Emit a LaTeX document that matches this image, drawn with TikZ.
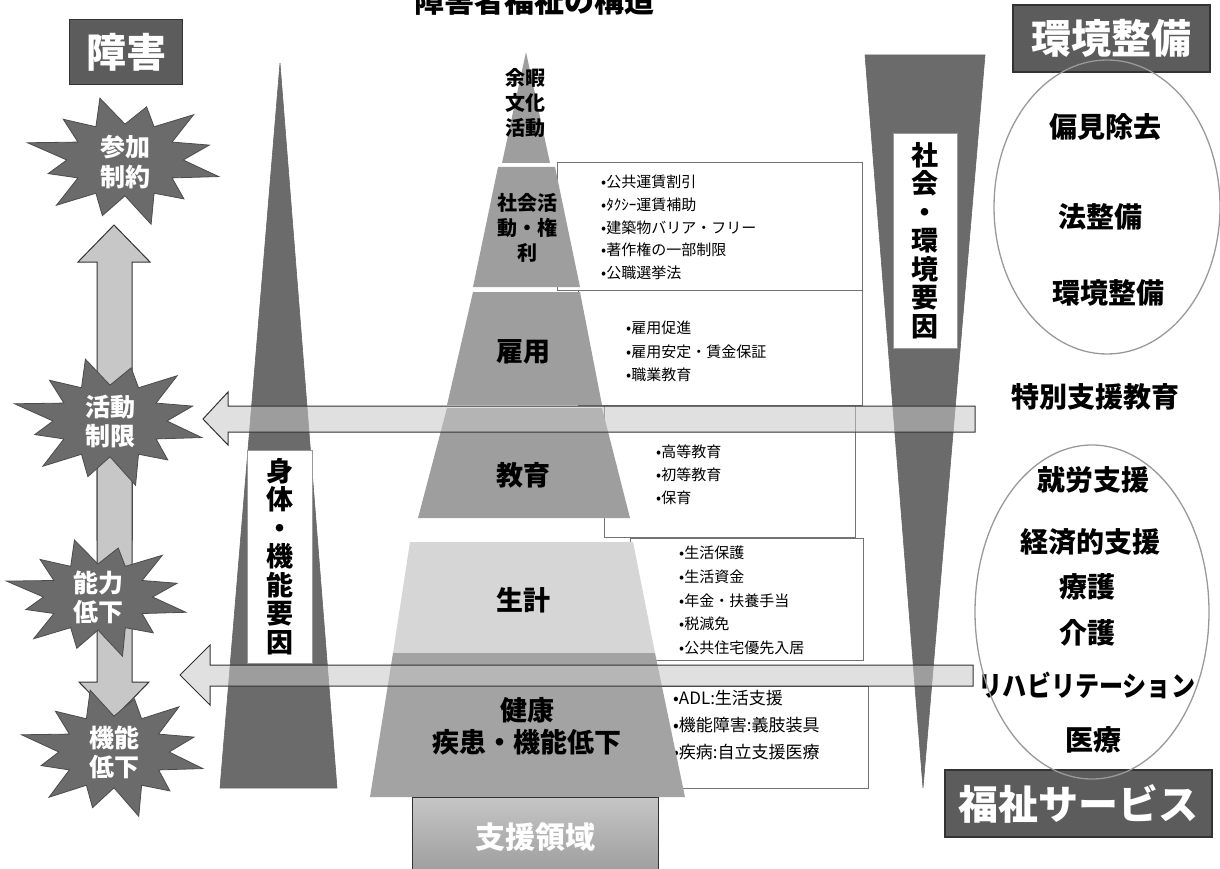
\documentclass[tikz,border=0pt]{standalone}
\usepackage{fontspec}
\setmainfont{Noto Sans CJK JP}
\definecolor{hdr}{gray}{0.36}
\definecolor{tri}{gray}{0.42}
\definecolor{burstc}{gray}{0.42}
\definecolor{pyr}{gray}{0.62}
\definecolor{pyrlight}{gray}{0.84}
\definecolor{pyrsix}{gray}{0.64}
\definecolor{arr}{gray}{0.78}
\newcommand{\myburst}[4]{%
  \begin{scope}[shift={(#1,#2)}]
    \filldraw[burstline] (15:{#3} and {#4})
      \foreach \a/\f in {30/0.56,45/0.86,60/0.6,75/1.04,90/0.56,105/0.9,120/0.6,135/1.0,150/0.56,165/0.82,180/0.6,195/1.04,210/0.56,225/0.9,240/0.6,255/1.0,270/0.56,285/0.86,300/0.6,315/1.0,330/0.56,345/0.9,360/0.6}
      { -- (\a:{#3*\f} and {#4*\f}) } -- cycle;
  \end{scope}}
\begin{document}
\begin{tikzpicture}[x=1pt,y=-1pt,
  hdrbox/.style={draw=black!80, line width=1.2pt, fill=hdr, text=white, font=\bfseries\fontsize{40}{40}\selectfont, inner sep=0pt},
  burstline/.style={draw=black!70, fill=burstc, line width=0.8pt},
  bursttext/.style={text=white, font=\bfseries\fontsize{25}{29}\selectfont, align=center, inner sep=0pt},
  blockarrow/.style={draw=black!80, line width=1pt, fill=arr},
  seethrough/.style={draw=black!80, line width=1pt, fill=arr, fill opacity=0.55},
  triangle/.style={fill=tri, draw=black!60, line width=0.6pt},
  vlabel/.style={fill=white, draw=black!40, inner sep=0pt, font=\bfseries\fontsize{27}{28.5}\selectfont, align=center},
  listbox/.style={draw=black!55, line width=1pt, fill=white},
  item/.style={font=\fontsize{15}{15}\selectfont, anchor=west, inner sep=0pt},
  itemb/.style={font=\fontsize{17}{17}\selectfont, anchor=west, inner sep=0pt},
  level/.style={fill=pyr},
  lvtext/.style={font=\bfseries\fontsize{27}{32}\selectfont, align=center, inner sep=0pt},
  lvsmall/.style={font=\bfseries\fontsize{20}{25}\selectfont, align=center, inner sep=0pt},
  rtext/.style={font=\bfseries\fontsize{28}{28}\selectfont, inner sep=0pt},
  oval/.style={draw=black!40, line width=1.3pt}
]
\useasboundingbox (0,0) rectangle (1220,869);
\clip (0,0) rectangle (1220,869);

% title
\node[font=\bfseries\fontsize{30}{30}\selectfont] (title) at (534,1) {障害者福祉の構造};

% left header
\node[hdrbox, minimum width=113pt, minimum height=65pt] (shogai) at (126,52) {障害};

% vertical arrows
\draw[blockarrow] (97,540) -- (97,262) -- (78,262) -- (114,225) -- (150,262) -- (132,262) -- (132,540) -- cycle;
\draw[blockarrow] (97,400) -- (132,400) -- (132,682) -- (149,682) -- (114,718) -- (79,682) -- (97,682) -- cycle;

% starbursts
\myburst{125}{160}{97}{64}
\myburst{110}{421}{95}{64}
\myburst{98}{597}{91}{59}
\myburst{114}{752}{92}{64}
\node[bursttext] (sanka) at (125,162) {参加\\制約};
\node[bursttext] (katsudo) at (110,421) {活動\\制限};
\node[bursttext] (noryoku) at (98,597) {能力\\低下};
\node[bursttext] (kino) at (114,752) {機能\\低下};

% triangles
\draw[triangle] (280,63) -- (337,788) -- (220,788) -- cycle;
\draw[triangle] (865,55) -- (985,55) -- (923,788) -- cycle;
\node[vlabel, minimum width=65pt, minimum height=213pt] (shintai) at (279.5,556.5) {身\\体\\・\\機\\能\\要\\因};
\node[vlabel, minimum width=64pt, minimum height=215pt] (shakai) at (925,240.5) {社\\会\\・\\環\\境\\要\\因};

% list boxes
\draw[listbox] (557,163) rectangle (862,290);
\draw[listbox] (578,290) rectangle (862,405);
\draw[listbox] (604,405) rectangle (855,537);
\draw[listbox] (630,538) rectangle (863,660);
\draw[listbox] (655,686) rectangle (868,788);

\foreach \t [count=\i] in {公共運賃割引,ﾀｸｼｰ運賃補助,建築物バリア・フリー,著作権の一部制限,公職選挙法}
  \node[item] (a\i) at (601,182+22.75*\i-22.75) {•\t};
\foreach \t [count=\i] in {雇用促進,雇用安定・賃金保証,職業教育}
  \node[item] (b\i) at (626,328+23.5*\i-23.5) {•\t};
\foreach \t [count=\i] in {高等教育,初等教育,保育}
  \node[item] (c\i) at (656,452+23*\i-23) {•\t};
\foreach \t [count=\i] in {生活保護,生活資金,年金・扶養手当,税減免,公共住宅優先入居}
  \node[item] (d\i) at (679,553+23.7*\i-23.7) {•\t};
\foreach \t [count=\i] in {ADL:生活支援,機能障害:義肢装具,疾病:自立支援医療}
  \node[itemb] (e\i) at (673,698+27*\i-27) {•\t};

% pyramid
\fill[level] (526,52) -- (550,163) -- (502,163) -- cycle;
\fill[level] (498,167) -- (555,167) -- (580,287) -- (473,287) -- cycle;
\fill[level] (473,292) -- (580,292) -- (602,405) -- (447,405) -- cycle;
\fill[level] (447,408) -- (602,408) -- (630,518) -- (418,518) -- cycle;
\fill[pyrlight] (410,542) -- (633,542) -- (655,653) -- (393,653) -- cycle;
\fill[pyrsix] (393,653) -- (655,653) -- (685,797) -- (370,797) -- cycle;

\node[lvsmall] (yoka) at (525,103) {余暇\\文化\\活動};
\node[lvsmall] (shakaikatsudo) at (527,228) {社会活\\動・権\\利};
\node[lvtext] (koyo) at (523,352) {雇用};
\node[lvtext] (kyoiku) at (523,475) {教育};
\node[lvtext] (seikei) at (523,600) {生計};
\node[lvtext] (kenko) at (527,726) {健康\\疾患・機能低下};

% support area box
\shade[top color=gray!45, bottom color=gray!75] (412,797) rectangle (658,869);
\draw[black!80, line width=1pt] (412,869) -- (412,797) -- (658,797) -- (658,869);
\node[font=\bfseries\fontsize{30}{30}\selectfont, text=white] (shien) at (535,837) {支援領域};

% horizontal arrows (see-through)
\draw[seethrough] (975,406) -- (228,406) -- (228,392) -- (203,419) -- (228,445) -- (228,432) -- (975,432) -- cycle;
\draw[seethrough] (973,665) -- (210,665) -- (210,645) -- (180,675) -- (210,705) -- (210,686) -- (973,686) -- cycle;

% right side
\node[hdrbox, minimum width=197pt, minimum height=67pt] (kankyo) at (1111.5,38.5) {環境整備};
\node[hdrbox, minimum width=267pt, minimum height=67pt] (fukushi) at (1078.5,803.5) {福祉サービス};

\node[rtext] (henken) at (1105,127) {偏見除去};
\node[rtext] (ho) at (1100,217) {法整備};
\node[rtext] (kankyo2) at (1108,293) {環境整備};
\node[rtext] (tokubetsu) at (1095,397) {特別支援教育};
\node[rtext] (shuro) at (1093,480) {就労支援};
\node[rtext] (keizai) at (1090,542) {経済的支援};
\node[rtext] (ryogo) at (1087,587) {療護};
\node[rtext] (kaigo) at (1087,633) {介護};
\node[rtext, xscale=0.86] (reha) at (1087,685) {リハビリテーション};
\node[rtext] (iryo) at (1093,740) {医療};

\draw[oval] (1107,207) ellipse [x radius=113pt, y radius=147pt];
\draw[oval] (1092,612) ellipse [x radius=117pt, y radius=167pt];
\end{tikzpicture}
\end{document}
